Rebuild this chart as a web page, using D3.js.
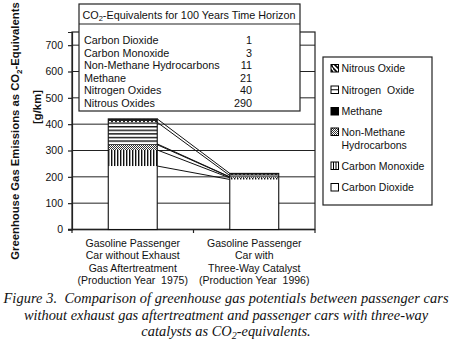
<!DOCTYPE html>
<html><head><meta charset="utf-8">
<script src="https://cdn.jsdelivr.net/npm/d3@7"></script>
<style>
html,body{margin:0;padding:0;background:#fff;}
svg{display:block;font-family:"Liberation Sans",Arial,sans-serif;}
svg text{white-space:pre;}
</style></head>
<body>
<script>
// ---- data ----
const categories = ["car1975", "car1996"];
const categoryLabels = [
  ["Gasoline Passenger", "Car without Exhaust", "Gas Aftertreatment", "(Production Year  1975)"],
  ["Gasoline Passenger", "Car with", "Three-Way Catalyst", "(Production Year  1996)"]
];
const gases = ["Carbon Dioxide", "Carbon Monoxide", "Non-Methane Hydrocarbons", "Methane", "Nitrogen Oxide", "Nitrous Oxide"];
const car1975 = [241, 61, 20, 3, 82, 13];
const car1996 = [190, 6, 3, 1, 5, 8];
const yTicks = [0, 100, 200, 300, 400, 500, 600, 700];
const gwpNames = ["Carbon Dioxide", "Carbon Monoxide", "Non-Methane Hydrocarbons", "Methane", "Nitrogen Oxides", "Nitrous Oxides"];
const gwpValues = [1, 3, 11, 21, 40, 290];
const legendLines = [["Nitrous Oxide"], ["Nitrogen  Oxide"], ["Methane"], ["Non-Methane", "Hydrocarbons"], ["Carbon Monoxide"], ["Carbon Dioxide"]];

const W = 454, H = 360;
const svg = d3.select("body").append("svg").attr("width", W).attr("height", H);

// patterns
const defs = svg.append("defs");
function pat(id, w, h, draw) {
  const p = defs.append("pattern").attr("id", id).attr("patternUnits", "userSpaceOnUse").attr("width", w).attr("height", h);
  p.append("rect").attr("width", w).attr("height", h).attr("fill", "#fff");
  draw(p);
}
pat("p-n2o", 4, 4, p => {
  p.append("rect").attr("width", 4).attr("height", 4).attr("fill", "#222");
  p.append("rect").attr("x", 1).attr("y", 1).attr("width", 2).attr("height", 1.3).attr("fill", "#fff");
});
pat("p-nox", 4, 3.6, p => p.append("rect").attr("y", 0).attr("width", 4).attr("height", 1.4).attr("fill", "#111"));
pat("p-ch4", 4, 4, p => p.append("rect").attr("width", 4).attr("height", 4).attr("fill", "#000"));
pat("p-nmhc", 2, 2, p => {
  p.append("rect").attr("width", 1).attr("height", 1).attr("fill", "#333");
  p.append("rect").attr("x", 1).attr("y", 1).attr("width", 1).attr("height", 1).attr("fill", "#333");
});
pat("p-co", 3, 4, p => p.append("rect").attr("x", 0).attr("width", 1.4).attr("height", 4).attr("fill", "#111"));
const fills = ["#fff", "url(#p-co)", "url(#p-nmhc)", "url(#p-ch4)", "url(#p-nox)", "url(#p-n2o)"];

pat("i-n2o", 9, 9, p => {
  p.append("path").attr("d", "M0,0 L9,9 M-1,4 L4,9 M4,-1 L10,5").attr("stroke", "#000").attr("stroke-width", 1.6);
});

// scales
const pLeft = 72, pRight = 315, pTop = 32, pBottom = 229.5;
const x = d3.scaleBand().domain(categories).range([pLeft, pRight]).paddingInner(0.597).paddingOuter(0.2985);
const y = d3.scaleLinear().domain([0, 750]).range([pBottom, pTop]);

const g = svg.append("g");

// gridlines
g.selectAll("line.grid").data(yTicks.filter(d => d > 0)).join("line")
  .attr("x1", pLeft).attr("x2", pRight).attr("y1", d => y(d)).attr("y2", d => y(d))
  .attr("stroke", "#222").attr("stroke-width", 1);

// frame
g.append("rect").attr("x", pLeft).attr("y", pTop).attr("width", pRight - pLeft).attr("height", pBottom - pTop)
  .attr("fill", "none").attr("stroke", "#222").attr("stroke-width", 1.2);

// y axis
const yAxis = d3.axisLeft(y).tickValues(yTicks).tickSize(4).tickPadding(5);
const ya = g.append("g").attr("transform", `translate(${pLeft},0)`).call(yAxis);
ya.select(".domain").attr("stroke", "#222").attr("stroke-width", 1.2);
ya.selectAll(".tick line").attr("stroke", "#222").attr("stroke-width", 1.2);
ya.selectAll("text").attr("font-size", 10.5).attr("fill", "#111").attr("font-family", "Liberation Sans, Arial, sans-serif");

// x axis ticks at category boundaries
const step = x.step();
const bounds = [pLeft, x(categories[0]) + x.bandwidth() / 2 + step / 2, pRight];
g.selectAll("line.xt").data(bounds).join("line")
  .attr("x1", d => d).attr("x2", d => d).attr("y1", pBottom).attr("y2", pBottom + 3.5)
  .attr("stroke", "#222").attr("stroke-width", 1.2);
g.append("line").attr("x1", pLeft - 4).attr("x2", pRight).attr("y1", pBottom).attr("y2", pBottom).attr("stroke", "#222").attr("stroke-width", 1.4);

// stacks
const seriesVals = [car1975, car1996];
function cum(arr) { let s = 0; return arr.map(v => [s, s += v]); }
const stacks = seriesVals.map(cum);

// connecting lines
const x1r = x(categories[0]) + x.bandwidth(), x2l = x(categories[1]);
g.selectAll("line.conn").data(gases.map((_, i) => i)).join("line")
  .attr("x1", x1r).attr("x2", x2l)
  .attr("y1", i => y(stacks[0][i][1])).attr("y2", i => y(stacks[1][i][1]))
  .attr("stroke", "#111").attr("stroke-width", 1);

categories.forEach((c, ci) => {
  g.selectAll(null).data(stacks[ci]).join("rect")
    .attr("x", x(c)).attr("width", x.bandwidth())
    .attr("y", d => y(d[1])).attr("height", d => y(d[0]) - y(d[1]))
    .attr("fill", (d, i) => fills[i]).attr("stroke", "none");
  const total = stacks[ci][stacks[ci].length - 1][1];
  g.append("rect").attr("x", x(c)).attr("width", x.bandwidth()).attr("y", y(total)).attr("height", y(0) - y(total))
    .attr("fill", "none").attr("stroke", "#111").attr("stroke-width", 1.1);
});

// category labels
categories.forEach((c, ci) => {
  const cx = x(c) + x.bandwidth() / 2;
  const t = svg.append("text").attr("text-anchor", "middle").attr("font-size", 10.5).attr("fill", "#111");
  categoryLabels[ci].forEach((ln, li) => {
    t.append("tspan").attr("x", cx).attr("y", 247 + li * 12.4).text(ln);
  });
});

// y axis title
const yt = svg.append("text").attr("transform", "translate(19,131) rotate(-90)").attr("text-anchor", "middle")
  .attr("font-size", 11.3).attr("font-weight", "bold").attr("fill", "#111");
yt.append("tspan").text("Greenhouse Gas Emissions as CO");
yt.append("tspan").attr("font-size", 8).attr("dy", 2.5).text("2");
yt.append("tspan").attr("dy", -2.5).text("-Equivalents");
svg.append("text").attr("transform", "translate(40.5,107) rotate(-90)").attr("text-anchor", "middle")
  .attr("font-size", 11.3).attr("font-weight", "bold").attr("fill", "#111").text("[g/km]");

// GWP table
const tb = svg.append("g");
tb.append("rect").attr("x", 79).attr("y", 4).attr("width", 221).attr("height", 107).attr("fill", "#fff").attr("stroke", "#222").attr("stroke-width", 1.2);
tb.append("line").attr("x1", 79).attr("x2", 300).attr("y1", 24).attr("y2", 24).attr("stroke", "#222").attr("stroke-width", 1.2);
const tt = tb.append("text").attr("x", 189).attr("y", 18.5).attr("text-anchor", "middle").attr("font-size", 10.8).attr("fill", "#111");
tt.append("tspan").text("CO");
tt.append("tspan").attr("font-size", 7.5).attr("dy", 2.5).text("2");
tt.append("tspan").attr("dy", -2.5).text("-Equivalents for 100 Years Time Horizon");
tb.selectAll("text.gn").data(gwpNames).join("text").attr("class", "gn")
  .attr("x", 84).attr("y", (d, i) => 44 + i * 12.5).attr("font-size", 10.8).attr("fill", "#111").text(d => d);
tb.selectAll("text.gv").data(gwpValues).join("text").attr("class", "gv")
  .attr("x", 252).attr("y", (d, i) => 44 + i * 12.5).attr("text-anchor", "end").attr("font-size", 10.8).attr("fill", "#111").text(d => d);

// legend
const lg = svg.append("g");
lg.append("rect").attr("x", 323).attr("y", 57).attr("width", 109).attr("height", 148).attr("fill", "#fff").attr("stroke", "#222").attr("stroke-width", 1.2);
const legY = [68.5, 90, 111.5, 132, 166, 187.5];
const iconFills = ["url(#i-n2o)", "#fff", "#000", "url(#p-nmhc)", "#fff", "#fff"];
legendLines.forEach((lines, i) => {
  const iy = legY[i] - 4;
  lg.append("rect").attr("x", 331).attr("y", iy).attr("width", 7.5).attr("height", 7.5)
    .attr("fill", iconFills[i]).attr("stroke", "#000").attr("stroke-width", 1);
  if (i === 1) lg.append("line").attr("x1", 331).attr("x2", 338.5).attr("y1", iy + 3.75).attr("y2", iy + 3.75).attr("stroke", "#000").attr("stroke-width", 1);
  if (i === 4) [333.5, 336].forEach(xx => lg.append("line").attr("x1", xx).attr("x2", xx).attr("y1", iy).attr("y2", iy + 7.5).attr("stroke", "#000").attr("stroke-width", 1));
  lines.forEach((ln, li) => {
    lg.append("text").attr("x", 341.5).attr("y", legY[i] + 3.8 + li * 13).attr("font-size", 10.5).attr("fill", "#111").text(ln);
  });
});

// caption
const cap = svg.append("g").attr("font-family", "Liberation Serif, Times New Roman, serif").attr("font-style", "italic").attr("font-size", 14.4).attr("fill", "#111").attr("text-anchor", "middle");
cap.append("text").attr("x", 226).attr("y", 303).attr("textLength", 445).attr("lengthAdjust", "spacing").text("Figure 3.  Comparison of greenhouse gas potentials between passenger cars");
cap.append("text").attr("x", 226).attr("y", 319.5).text("without exhaust gas aftertreatment and passenger cars with three-way");
const c3 = cap.append("text").attr("x", 226).attr("y", 336);
c3.append("tspan").text("catalysts as CO");
c3.append("tspan").attr("font-size", 10).attr("dy", 3).text("2");
c3.append("tspan").attr("dy", -3).text("-equivalents.");
</script>
</body></html>
